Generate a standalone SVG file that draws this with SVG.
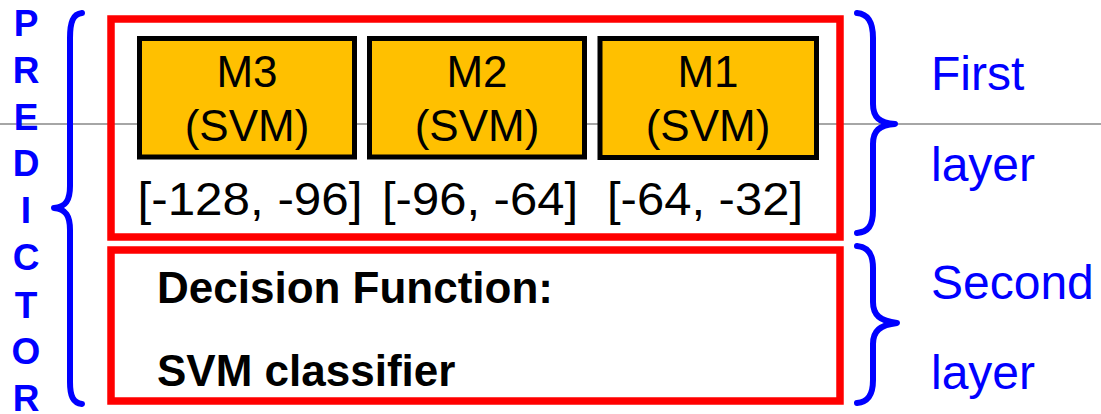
<svg xmlns="http://www.w3.org/2000/svg" width="1101" height="414" viewBox="0 0 1101 414">
  <style>
    .frame { fill: none; stroke: #FF0000; stroke-width: 7.5; }
    .model { fill: #FFC000; stroke: #000000; stroke-width: 5; }
    .mtxt { font-family: "Liberation Sans", Arial, sans-serif; font-size: 44px; fill: #000000; text-anchor: middle; }
    .range { font-family: "Liberation Sans", Arial, sans-serif; font-size: 46px; fill: #000000; text-anchor: middle; }
    .dec { font-family: "Liberation Sans", Arial, sans-serif; font-size: 44px; font-weight: bold; fill: #000000; }
    .side { font-family: "Liberation Sans", Arial, sans-serif; font-size: 48px; fill: #0000FF; }
    .vert { font-family: "Liberation Sans", Arial, sans-serif; font-size: 37px; font-weight: bold; fill: #0000FF; text-anchor: middle; }
    .brace { fill: none; stroke: #0000FF; stroke-width: 6; stroke-linecap: round; stroke-linejoin: round; }
  </style>

  <rect x="0" y="0" width="1101" height="414" fill="#FFFFFF"/>

  <!-- thin guide line across the page -->
  <line x1="0" y1="124" x2="1101" y2="124" stroke="#888888" stroke-width="1.5"/>

  <!-- vertical label; the last letter runs past the bottom edge -->
  <g id="predictor-label">
    <text class="vert" x="26" y="36">P</text>
    <text class="vert" x="26" y="83">R</text>
    <text class="vert" x="26" y="130">E</text>
    <text class="vert" x="26" y="176">D</text>
    <text class="vert" x="26" y="223">I</text>
    <text class="vert" x="26" y="270">C</text>
    <text class="vert" x="26" y="318">T</text>
    <text class="vert" x="26" y="364">O</text>
    <text class="vert" x="26" y="411">R</text>
  </g>

  <!-- braces -->
  <g id="braces">
    <path class="brace" d="M 82 13 C 73 14 70 22 70 38 L 70 186 C 70 200 66 207 54 208 C 66 209 70 216 70 230 L 70 382 C 70 396 73 403 82 404"/>
    <path class="brace" d="M 857 13 C 868 14 873 22 873 38 L 873 104 C 873 117 879 123 895 124 C 879 125 873 131 873 144 L 873 210 C 873 226 868 232 857 233"/>
    <path class="brace" d="M 857 246 C 868 247 873 254 873 268 L 873 302 C 873 315 880 321 897 323 C 880 325 873 331 873 344 L 873 380 C 873 395 868 402 857 403"/>
  </g>

  <!-- first layer -->
  <g id="first-layer">
    <rect class="frame" x="111" y="19" width="729" height="218"/>
  </g>

  <g id="m3">
    <rect class="model" x="139.5" y="38.5" width="215" height="118.5"/>
    <text class="mtxt" x="247" y="87">M3</text>
    <text class="mtxt" x="247" y="141">(SVM)</text>
    <text class="range" x="250" y="215" textLength="225" lengthAdjust="spacingAndGlyphs">[-128, -96]</text>
  </g>

  <g id="m2">
    <rect class="model" x="369.5" y="38.5" width="215" height="118.5"/>
    <text class="mtxt" x="477" y="87">M2</text>
    <text class="mtxt" x="477" y="141">(SVM)</text>
    <text class="range" x="480" y="215" textLength="196" lengthAdjust="spacingAndGlyphs">[-96, -64]</text>
  </g>

  <g id="m1">
    <rect class="model" x="600" y="38.5" width="216.5" height="119"/>
    <text class="mtxt" x="708" y="87">M1</text>
    <text class="mtxt" x="708" y="141">(SVM)</text>
    <text class="range" x="705" y="215" textLength="196" lengthAdjust="spacingAndGlyphs">[-64, -32]</text>
  </g>

  <!-- second layer -->
  <g id="second-layer">
    <rect class="frame" x="111" y="250" width="729" height="151"/>
    <text class="dec" x="157" y="303">Decision Function:</text>
    <text class="dec" x="157" y="386">SVM classifier</text>
  </g>

  <!-- layer captions -->
  <g id="captions">
    <text class="side" x="931" y="90">First</text>
    <text class="side" x="931" y="181">layer</text>
    <text class="side" x="931" y="299">Second</text>
    <text class="side" x="931" y="389">layer</text>
  </g>
</svg>
